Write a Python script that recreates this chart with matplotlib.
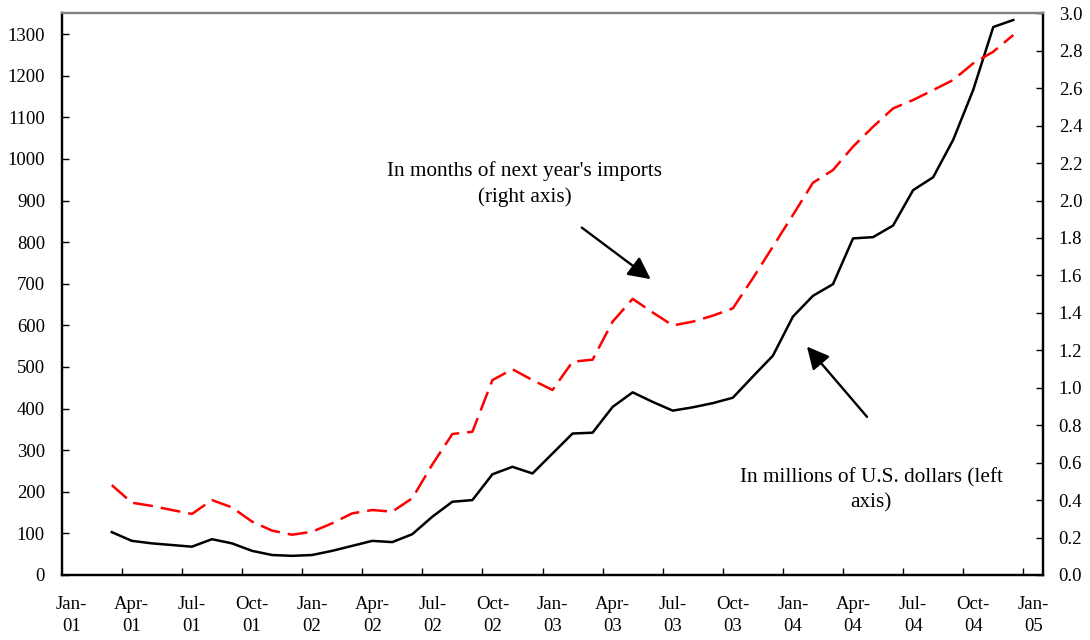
import matplotlib
matplotlib.use("Agg")
import matplotlib.pyplot as plt
import pandas as pd

# monthly data, Mar-01 .. Dec-04
months = pd.date_range("2001-03-01", "2004-12-01", freq="MS")

reserves_usd = [103, 82, 76, 72, 68, 86, 76, 58, 48, 46,
                48, 58, 70, 82, 79, 98, 140, 176, 180, 242, 260, 244,
                292, 340, 342, 404, 439, 416, 395, 403, 413, 426, 477, 527,
                621, 671, 699, 809, 812, 840, 925, 956, 1046, 1166, 1317, 1334]

reserves_months = [0.48, 0.386, 0.369, 0.347, 0.326, 0.40, 0.361, 0.285, 0.237, 0.215,
                   0.231, 0.276, 0.329, 0.347, 0.338, 0.41, 0.59, 0.753, 0.765, 1.041, 1.099, 1.041,
                   0.988, 1.139, 1.15, 1.353, 1.475, 1.402, 1.333, 1.353, 1.385, 1.424, 1.585, 1.754,
                   1.923, 2.095, 2.163, 2.288, 2.394, 2.492, 2.537, 2.59, 2.644, 2.733, 2.795, 2.884]

# category axis Jan-01 .. Jan-05
axis_months = pd.date_range("2001-01-01", "2005-01-01", freq="MS")
tick_labels = [d.strftime("%b-\n%y") for d in axis_months[::3]]

plt.rcParams["font.family"] = ["Liberation Serif", "DejaVu Serif"]
plt.rcParams["font.size"] = 13.5

fig = plt.figure(figsize=(10.9, 6.4), dpi=100)
ax = fig.add_axes([0.0566, 0.1016, 0.9006, 0.8776])
ax2 = ax.twinx()

pos = {d: i for i, d in enumerate(axis_months)}
x = [pos[d] for d in months]

ax.plot(x, reserves_usd, color="black", lw=1.8, zorder=3)
ax2.plot(x, reserves_months, color="#ff0000", lw=1.8, dashes=(8, 3.2))

ax.set_xlim(-0.5, len(axis_months) - 0.5)
ax.set_ylim(0, 1350)
ax2.set_ylim(0, 3.0)

ax.set_yticks(range(0, 1301, 100))
ax2.set_yticks([i / 5 for i in range(16)])
ax2.set_yticklabels([f"{i / 5:.1f}" for i in range(16)])

# tick marks between categories, labels on categories
ax.set_xticks([k - 0.5 for k in range(3, len(axis_months), 3)])
ax.set_xticklabels([])
ax.set_xticks(list(range(0, len(axis_months), 3)), minor=True)
ax.set_xticklabels(tick_labels, minor=True)
ax.tick_params(axis="x", which="major", direction="in", length=5, width=1)
ax.tick_params(axis="x", which="minor", length=0, pad=15)
for lab in ax.get_xticklabels(minor=True):
    lab.set_linespacing(1.4)

ax.tick_params(axis="y", direction="in", length=5, width=1, pad=12)
ax2.tick_params(axis="y", direction="in", length=5, width=1, pad=11)

for a in (ax, ax2):
    for s in ("left", "right", "bottom"):
        a.spines[s].set_color("black")
        a.spines[s].set_linewidth(1.6)
    a.spines["top"].set_color("#808080")
    a.spines["top"].set_linewidth(1.6)

ax.text(22.6, 939, "In months of next year's imports\n(right axis)",
        ha="center", va="center", linespacing=1.4, fontsize=15.3)
ax.text(39.9, 203, "In millions of U.S. dollars (left\naxis)",
        ha="center", va="center", linespacing=1.4, fontsize=15.3)

arrow = dict(arrowstyle="-|>,head_length=1.0,head_width=0.5", color="black", lw=1.7,
             shrinkA=0, shrinkB=0)
ax.annotate("", xy=(28.9, 711), xytext=(25.46, 835), arrowprops=arrow)
ax.annotate("", xy=(36.7, 549), xytext=(39.7, 380), arrowprops=arrow)

fig.savefig("out.png", dpi=100)
